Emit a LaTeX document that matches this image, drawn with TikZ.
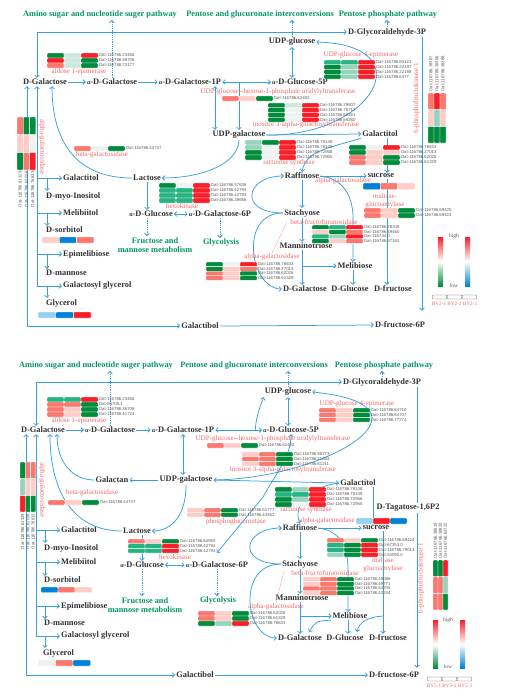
\documentclass[tikz,border=0pt]{standalone}
\usepackage{fontspec}
\setmainfont{Liberation Serif}
\setsansfont{Liberation Sans}
\usetikzlibrary{arrows.meta}
\definecolor{lnc}{RGB}{55,160,225}
\definecolor{ttlc}{RGB}{0,150,100}
\definecolor{enzc}{RGB}{245,105,105}
\definecolor{ntx}{RGB}{50,50,50}
\definecolor{gtx}{RGB}{90,90,90}
\definecolor{hR}{RGB}{250,30,40}
\definecolor{hS}{RGB}{250,120,110}
\definecolor{hP}{RGB}{255,205,200}
\definecolor{hW}{RGB}{238,243,241}
\definecolor{hT1}{RGB}{205,232,220}
\definecolor{hT}{RGB}{150,212,190}
\definecolor{hM}{RGB}{40,180,130}
\definecolor{hG}{RGB}{0,140,60}
\definecolor{hB}{RGB}{0,130,215}
\definecolor{hL}{RGB}{150,210,240}
\definecolor{hQ}{RGB}{240,240,240}
\newcommand\myalpha{{\fontsize{6}{6}\selectfont α}}
% rows heat map: name, x, y, cell w, cell h, list c1/c2/c3/label
\newcommand\hmrows[6]{%
  \foreach \ca/\cb/\cc/\lb [count=\i from 0] in {#6} {
    \path[hcell,fill=\ca] (#2,{#3+\i*#5}) rectangle ++(#4,#5);
    \path[hcell,fill=\cb] ({#2+#4},{#3+\i*#5}) rectangle ++(#4,#5);
    \path[hcell,fill=\cc] ({#2+2*#4},{#3+\i*#5}) rectangle ++(#4,#5);
    \node[gene,anchor=west] (#1\i) at ({#2+3*#4+0.4},{#3+\i*#5+#5/2}) {Oat-\lb};
  }}
% plain single row
\newcommand\hmplain[7]{%
  \path[hcell,fill=#5] (#1,#2) rectangle ++(#3,#4);
  \path[hcell,fill=#6] ({#1+#3},#2) rectangle ++(#3,#4);
  \path[hcell,fill=#7] ({#1+2*#3},#2) rectangle ++(#3,#4);}
% column heat map, labels below
\newcommand\hmcolsB[6]{%
  \foreach \ca/\cb/\cc/\lb [count=\i from 0] in {#6} {
    \path[hcell,fill=\ca] ({#2+\i*#4},#3) rectangle ++(#4,#5);
    \path[hcell,fill=\cb] ({#2+\i*#4},{#3+#5}) rectangle ++(#4,#5);
    \path[hcell,fill=\cc] ({#2+\i*#4},{#3+2*#5}) rectangle ++(#4,#5);
    \node[gene,rotate=90,anchor=east] (#1\i) at ({#2+\i*#4+#4/2},{#3+3*#5+1}) {Oat-\lb};
  }}
% column heat map, labels above
\newcommand\hmcolsA[6]{%
  \foreach \ca/\cb/\cc/\lb [count=\i from 0] in {#6} {
    \path[hcell,fill=\ca] ({#2+\i*#4},#3) rectangle ++(#4,#5);
    \path[hcell,fill=\cb] ({#2+\i*#4},{#3+#5}) rectangle ++(#4,#5);
    \path[hcell,fill=\cc] ({#2+\i*#4},{#3+2*#5}) rectangle ++(#4,#5);
    \node[gene,rotate=90,anchor=west] (#1\i) at ({#2+\i*#4+#4/2},{#3-1}) {Oat-\lb};
  }}
\tikzset{
  nd/.style={font=\fontsize{8.4}{9}\selectfont\bfseries, text=ntx, inner sep=1pt},
  ttl/.style={font=\fontsize{8.3}{9.6}\selectfont\bfseries, text=ttlc, inner sep=1pt},
  enz/.style={font=\fontsize{7.1}{7.8}\selectfont, text=enzc, inner sep=0.5pt},
  gene/.style={font=\sffamily\fontsize{4.3}{5}\selectfont, text=gtx, inner sep=0.3pt},
  hcell/.style={draw=white, line width=0.35pt, rounded corners=0.8pt},
  ln/.style={draw=lnc, line width=0.75pt},
  dsh/.style={dash pattern=on 1.3pt off 0.9pt},
  ptr/.style={draw=enzc!70, line width=0.3pt},
  lgt/.style={font=\fontsize{5.5}{6}\selectfont, text=gtx, inner sep=0.5pt},
  lgb/.style={draw=gtx, line width=0.3pt, rounded corners=0.6pt, minimum width=14pt, minimum height=4pt, inner sep=0},
  bar/.style={inner sep=0, minimum width=5pt, minimum height=49pt}
}
\begin{document}
\begin{tikzpicture}[x=1pt,y=-1pt,>={Straight Barb[length=2.3pt,width=4.6pt]}]
\fill[white] (0,0) rectangle (505,699);
\useasboundingbox (0,0) rectangle (505,699);

%================= TOP PANEL =================
\node[ttl] (t1) at (100,15) {Amino sugar and nucleotide suger pathway};
\node[ttl] (t2) at (260,15) {Pentose and glucuronate interconversions};
\node[ttl] (t3) at (388,15) {Pentose phosphate pathway};
\node[nd] (gly) at (387,32) {D-Glycoraldehyde-3P};
\node[nd] (udpglc) at (292,42) {UDP-glucose};
\node[nd] (dgal) at (45,82) {D-Galactose};
\node[nd] (adgal) at (112,82) {\myalpha-D-Galactose};
\node[nd] (adgal1p) at (190,82) {\myalpha-D-Galactose-1P};
\node[nd] (adglc5p) at (300,82) {\myalpha-D-Glucose-5P};
\node[nd] (udpgal) at (239,135) {UDP-galactose};
\node[nd] (galtol) at (380,134) {Galactitol};
\node[nd] (lact) at (147,178) {Lactose};
\node[nd] (raff) at (302,176) {Raffinose};
\node[nd] (sucr) at (381,176) {sucrose};
\node[nd,anchor=west] (galtolL) at (62,178) {Galactitol};
\node[nd,anchor=west] (myo) at (45,196) {D-myo-Inositol};
\node[nd,anchor=west] (melt) at (62,213) {Melibiitol};
\node[nd] (adglc) at (151,214) {\myalpha-D-Glucose};
\node[nd] (adgal6p) at (220,214) {\myalpha-D-Galactose-6P};
\node[nd] (stach) at (302,213) {Stachyose};
\node[nd,anchor=west] (sorb) at (45,230) {D-sorbitol};
\node[ttl,align=center] (fm) at (155,245) {Fructose and\\mannose metabolism};
\node[ttl] (glyc) at (221,243) {Glycolysis};
\node[nd] (mann) at (306,246) {Manninotriose};
\node[nd,anchor=west] (epim) at (62,254) {Epimelibiose};
\node[nd] (melib) at (355,266) {Melibiose};
\node[nd,anchor=west] (dman) at (45,273) {D-mannose};
\node[nd,anchor=west] (galgly) at (62,286) {Galactosyl glycerol};
\node[nd] (dgal2) at (305,289) {D-Galactose};
\node[nd] (dglc) at (350,289) {D-Glucose};
\node[nd] (dfru) at (393,289) {D-fructose};
\node[nd,anchor=west] (glycer) at (45,303) {Glycerol};
\node[nd] (galb) at (200,326) {Galactibol};
\node[nd] (f6p) at (400,325) {D-fructose-6P};

\node[enz] (e1) at (79,72) {aldose 1-epimerase};
\node[enz] (e2) at (361,55) {UDP-glucose 4-epimerase};
\node[enz] (e3) at (278,92) {UDP-glucose-{}-hexose-1-phosphate uridylyltransferase};
\node[enz] (e4) at (306,125) {inositol 3-alpha-galactosyltransferase};
\node[enz] (e5) at (102,155) {beta-galactosidase};
\node[enz] (e6) at (289,163) {raffinose synthase};
\node[enz] (e7) at (343,181) {alpha-galactosidase};
\node[enz,align=center] (e8) at (385,200.5) {maltase-\\glucoamylase};
\node[enz] (e9) at (182,206) {hexokinase};
\node[enz] (e10) at (324,222) {beta-fructofuranosidase};
\node[enz] (e11) at (272,257) {alpha-galactosidase};
\node[enz,rotate=-90] (e12) at (42,147) {alpha-galactosidase};
\node[enz,rotate=90] (e13) at (416.5,98) {6-phosphofructokinase 1};

\coordinate (sp1) at (27,0);
\coordinate (sp2) at (37,0);
\coordinate (sb) at (47,0);
\coordinate (v1) at (215,0);
\coordinate (v2) at (387,0);
\coordinate (v3) at (353,0);
\coordinate (v4) at (52,0);
\coordinate (v5) at (422,0);
\path (f6p.north -| v5) ++(0,-10) coordinate (f6pin);

% left spine
\draw[ln,<->] (galb.west) -| (dgal.south -| sp1);
\draw[ln,->] (galgly.west -| sp2) -- (dgal.south -| sp2);
\draw[ln,->] (galtolL.west -| sp2) -- (galtolL.west);
\draw[ln,->] (melt.west -| sp2) -- (melt.west);
\draw[ln,->] (epim.west -| sp2) -- (epim.west);
\draw[ln,->] (galgly.west -| sp2) -- (galgly.west);
\draw[ln,->] (galtolL.west -| sb) -- (myo.north -| sb);
\draw[ln,->] (melt.west -| sb) -- (sorb.north -| sb);
\draw[ln,->] (epim.west -| sb) -- (dman.north -| sb);
\draw[ln,->] (galgly.west -| sb) -- (glycer.north -| sb);
% top line
\draw[ln,<->] (dgal.north -| sp2) |- (gly.west);
\draw[ln,dsh,->] (adgal.north) -- (adgal.north |- t1.south);
\draw[ln,dsh,->] (udpglc.north) -- (udpglc.north |- t2.south);
\draw[ln,dsh,->] (gly.north) -- (gly.north |- t3.south);
\draw[ln,->] (dgal.east) -- (adgal.west);
\draw[ln,->] (adgal.east) -- (adgal1p.west);
\draw[ln,<->] (adgal1p.east) -- (adglc5p.west);
\draw[ln,->] (udpgal.north |- adgal1p.east) -- (udpgal.north);
\draw[ln,<->] (adgal1p.south -| v1) -- (udpgal.north -| v1);
\draw[ln,<->] (udpglc.south) -- (udpglc.south |- adglc5p.north);
\draw[ln,->] (udpgal.east) .. controls (372,137) and (425,45) .. (udpglc.east);
\draw[ln,->] (udpgal.east) -- (galtol.west);
\draw[ln,->] (galtol.south west) .. controls (330,148) and (306,150) .. (raff.north);
\draw[ln,->] (v2 |- galtol.south) -- (v2 |- sucr.north);
\draw[ln,->] (raff.east) -- (sucr.west);
\draw[ln,->] (raff.south) -- (raff.south |- stach.north);
\draw[ln,->] (stach.south) -- (stach.south |- mann.north);
\draw[ln,->] (stach.south |- mann.south) -- (stach.south |- dgal2.north);
\draw[ln,->] (stach.south |- melib.west) -- (melib.west);
\draw[ln,->] (raff.east) .. controls (342,178) and (353,195) .. (v3 |- stach.south) -- (v3 |- melib.north);
\draw[ln,->] (v3 |- melib.south) -- (v3 |- dglc.north);
\draw[ln,->] (v2 |- sucr.south) -- (v2 |- dfru.north);
\draw[ln,->] (stach.west) .. controls (238,213) and (245,176) .. (raff.west);
\draw[ln,->] (stach.west) .. controls (238,213) and (250,289) .. (dgal2.west);
\draw[ln,->] (lact.west) .. controls (75,178) and (52,140) .. (dgal.south -| v4);
\draw[ln,->] (udpgal.south) .. controls (238,165) and (200,178) .. (lact.east);
\draw[ln,->] (lact.south) -- (lact.south |- adglc.north);
\draw[ln,<->] (adglc.east) -- (adgal6p.west);
\draw[ln,dsh,->] (lact.south |- adglc.south) -- (lact.south |- fm.north);
\draw[ln,dsh,->] (adgal6p.south) -- (adgal6p.south |- glyc.north);
\draw[ln,->] (galb.east) -- (f6p.west);
\draw[ln,->] (v5 |- gly.south) -- (f6pin);
\draw[ptr] (e11.north) -- (287,222);

% heat maps top
\hmrows{ha}{47}{53}{17}{5}{hG/hT1/hR/116786.23456, hR/hT1/hG/116786.36706, hS/hT1/hG/116786.73177}
\hmrows{hb}{324}{60}{17}{4.75}{hM/hM/hR/116786.83121, hG/hT/hR/116786.22197, hG/hT/hR/116786.22198, hG/hT/hR/116786.6477}
\hmrows{hc}{222}{96}{17}{5}{hS/hP/hG/116786.62482}
\hmrows{hd}{268}{103}{17}{4.75}{hG/hT1/hR/116786.29807, hG/hW/hR/116786.76712, hG/hW/hR/116786.69261, hG/hW/hR/116786.69260}
\hmrows{he}{74}{146}{17}{5}{hS/hW/hG/116786.44747}
\hmrows{hf}{245}{140}{17}{5}{hT/hG/hR/116786.78148, hT/hW/hR/116786.78149, hG/hW/hR/116786.72956, hG/hW/hR/116786.72955}
\hmrows{hg}{349}{145}{17}{5}{hG/hW/hR/116786.76633, hG/hP/hP/116786.27013, hS/hP/hG/116786.62026, hS/hP/hG/116786.61329}
\hmrows{hi}{364}{208}{17}{5}{hS/hP/hG/116786.69425, hS/hP/hG/116786.69424}
\hmrows{hj}{159}{183}{17}{5}{hG/hW/hR/116786.57636, hM/hM/hR/116786.42794, hM/hM/hR/116786.42793, hM/hM/hR/116786.39665}
\hmrows{hk}{312}{225}{17}{4.6}{hG/hM/hR/116786.78349, hP/hG/hS/116786.49460, hM/hT/hR/116744.0, hG/hP/hS/116786.57162}
\hmrows{hl}{206}{262}{17}{4.6}{hG/hW/hR/116786.76633, hG/hP/hS/116786.27013, hS/hP/hG/116786.62026, hS/hP/hG/116786.61329}
\hmplain{42}{237}{17.3}{6}{hP}{hB}{hS}
\hmplain{38}{312}{17.7}{6}{hL}{hB}{hR}
\hmplain{363}{183}{17.3}{6.5}{hB}{hS}{hP}
\hmcolsB{hm}{17}{117}{6.3}{17.7}{hS/hP/hG/116786.61329, hG/hP/hS/116786.62026, hG/hW/hR/116786.76633}
\hmcolsA{hn}{428}{93}{6}{16.7}{hS/hP/hG/116786.38387, hR/hT/hG/116786.38386, hS/hP/hG/116786.38388}

% legend top
\node[bar,top color=hR,bottom color=hG,middle color=white] (lg1) at (440.5,261.5) {};
\node[bar,top color=hR,bottom color=hB,middle color=white] (lg2) at (467.5,261.5) {};
\node[lgt] (hi1) at (454,236) {high};
\node[lgt] (lo1) at (454,286) {low};
\node[lgb] (bx1) at (439.5,297) {};
\node[lgb] (bx2) at (454.5,297) {};
\node[lgb] (bx3) at (469.5,297) {};
\node[enz,font=\fontsize{5.2}{6}\selectfont] (by2) at (454.5,304) {BY2-1 BY2-2 BY2-3};

%================= BOTTOM PANEL =================
\node[ttl] (bt1) at (96,366) {Amino sugar and nucleotide suger pathway};
\node[ttl] (bt2) at (254,366) {Pentose and glucuronate interconversions};
\node[ttl] (bt3) at (384,366) {Pentose phosphate pathway};
\node[nd] (bgly) at (382,382) {D-Glycoraldehyde-3P};
\node[nd] (budpglc) at (288,392) {UDP-glucose};
\node[nd] (bdgal) at (43,430) {D-Galactose};
\node[nd] (badgal) at (110,430) {\myalpha-D-Galactose};
\node[nd] (badgal1p) at (183,430) {\myalpha-D-Galactose-1P};
\node[nd] (badglc5p) at (291,430) {\myalpha-D-Glucose-5P};
\node[nd] (bgalan) at (112,480) {Galactan};
\node[nd] (budpgal) at (186,480) {UDP-galactose};
\node[nd] (bgaltol) at (358,483) {Galactitol};
\node[nd] (btag) at (408,508) {D-Tagatose-1,6P2};
\node[nd] (braff) at (300,528) {Raffinose};
\node[nd] (bsucr) at (376,528) {sucrose};
\node[nd] (blact) at (137,531) {Lactose};
\node[nd,anchor=west] (bgaltolL) at (60,530) {Galactitol};
\node[nd,anchor=west] (bmyo) at (43,548) {D-myo-Inositol};
\node[nd,anchor=west] (bmelt) at (60,562) {Melibiitol};
\node[nd] (badglc) at (142,565) {\myalpha-D-Glucose};
\node[nd] (badgal6p) at (217,565) {\myalpha-D-Galactose-6P};
\node[nd] (bstach) at (300,564) {Stachyose};
\node[nd,anchor=west] (bsorb) at (43,580) {D-sorbitol};
\node[ttl,align=center] (bfm) at (145,605) {Fructose and\\mannose metabolism};
\node[ttl] (bglyc) at (218,601) {Glycolysis};
\node[nd] (bmann) at (302,598) {Manninotriose};
\node[nd,anchor=west] (bepim) at (60,606) {Epimelibiose};
\node[nd] (bmelib) at (350,616) {Melibiose};
\node[nd,anchor=west] (bdman) at (43,623) {D-mannose};
\node[nd,anchor=west] (bgalgly) at (60,636) {Galactosyl glycerol};
\node[nd] (bdgal2) at (300,638) {D-Galactose};
\node[nd] (bdglc) at (345,638) {D-Glucose};
\node[nd] (bdfru) at (388,638) {D-fructose};
\node[nd,anchor=west] (bglycer) at (42,653) {Glycerol};
\node[nd] (bgalb) at (195,675) {Galactibol};
\node[nd] (bf6p) at (394,675) {D-fructose-6P};

\node[enz] (be1) at (79,421) {aldose 1-epimerase};
\node[enz] (be2) at (357,404) {UDP-glucose 4-epimerase};
\node[enz] (be3) at (273,439) {UDP-glucose-{}-hexose-1-phosphate uridylyltransferase};
\node[enz] (be4) at (283,470) {inositol 3-alpha-galactosyltransferase};
\node[enz] (be5) at (92,493) {beta-galactosidase};
\node[enz] (be6) at (236,522) {phosphoglucomutase};
\node[enz] (be7) at (306,510) {raffinose synthase};
\node[enz] (be8) at (327,521) {alpha-galactosidase};
\node[enz,align=center] (be9) at (383,565) {maltase\\glucoamylase};
\node[enz] (be10) at (175,557) {hexokinase};
\node[enz] (be11) at (325,573) {beta-fructofuranosidase};
\node[enz] (be12) at (276,607) {alpha-galactosidase};
\node[enz,rotate=-90] (be13) at (42,490) {alpha-galactosidase};
\node[enz,rotate=90] (be14) at (421,578) {6-phosphofructokinase 1};

\coordinate (bsp1) at (26,0);
\coordinate (bsp2) at (36,0);
\coordinate (bsb) at (45,0);
\coordinate (bv2) at (373,0);
\coordinate (bv3) at (348,0);
\coordinate (bv4) at (50,0);
\coordinate (bv4b) at (57,0);
\coordinate (bv5) at (417,0);
\coordinate (bv6) at (383,0);
\coordinate (pgm) at (263,497);
\coordinate (m1) at (309,632);
\coordinate (m2) at (357,632);
\path (badgal6p.north) ++(0,-8) coordinate (pgmend);
\path (bf6p.north -| bv5) ++(0,-3) coordinate (bf6pin);
\path (badgal1p.east) ++(40,0) coordinate (hx);

\draw[ln,<->] (bgalb.west) -| (bdgal.south -| bsp1);
\draw[ln,->] (bgalgly.west -| bsp2) -- (bdgal.south -| bsp2);
\draw[ln,->] (bgaltolL.west -| bsp2) -- (bgaltolL.west);
\draw[ln,->] (bmelt.west -| bsp2) -- (bmelt.west);
\draw[ln,->] (bepim.west -| bsp2) -- (bepim.west);
\draw[ln,->] (bgalgly.west -| bsp2) -- (bgalgly.west);
\draw[ln,->] (bgaltolL.west -| bsb) -- (bmyo.north -| bsb);
\draw[ln,->] (bmelt.west -| bsb) -- (bsorb.north -| bsb);
\draw[ln,->] (bepim.west -| bsb) -- (bdman.north -| bsb);
\draw[ln,->] (bgalgly.west -| bsb) -- (bglycer.north -| bsb);
\draw[ln,<->] (bdgal.north -| bsp2) |- (bgly.west);
\draw[ln,dsh,->] (badgal.north) -- (badgal.north |- bt1.south);
\draw[ln,dsh,->] (budpglc.north) -- (budpglc.north |- bt2.south);
\draw[ln,dsh,->] (bgly.north) -- (bgly.north |- bt3.south);
\draw[ln,->] (bdgal.east) -- (badgal.west);
\draw[ln,->] (badgal.east) -- (badgal1p.west);
\draw[ln,<->] (badgal1p.east) -- (badglc5p.west);
\draw[ln,->] (hx) .. controls (256,415) and (262,402) .. (budpglc.south west);
\draw[ln,<->] (budpglc.south) -- (budpglc.south |- badglc5p.north);
\draw[ln,<->] (badgal1p.south) -- (badgal1p.south |- budpgal.north);
\draw[ln,->] (budpgal.west) -- (bgalan.east);
\draw[ln,->] (blact.west) .. controls (72,531) and (50,490) .. (bdgal.south -| bv4);
\draw[ln,->] (bgalan.west) .. controls (72,480) and (57,462) .. (bdgal.south -| bv4b);
\draw[ln,->] (budpgal.south) .. controls (186,515) and (172,531) .. (blact.east);
\draw[ln,->] (badglc.north |- blact.south) -- (badglc.north);
\draw[ln,<->] (badglc.east) -- (badgal6p.west);
\draw[ln,dsh,->] (badglc.south) -- (badglc.south |- bfm.north);
\draw[ln,dsh,->] (badgal6p.south) -- (badgal6p.south |- bglyc.north);
\draw[ln,<->] (budpgal.east) .. controls (330,478) and (445,405) .. (budpglc.east);
\draw[ln,->] (budpgal.east) -- (bgaltol.west);
\draw[ln,<->] (pgmend) -- (pgm) .. controls (278,470) and (291,456) .. (badglc5p.south);
\draw[ln,->] (bgaltol.west) .. controls (312,486) and (292,505) .. (braff.north);
\draw[ln,->] (braff.east) -- (bsucr.west);
\draw[ln,->] (bv2 |- bgaltol.south) -- (bv2 |- bsucr.north);
\draw[ln,->] (braff.south) -- (braff.south |- bstach.north);
\draw[ln,->] (bstach.south) -- (bstach.south |- bmann.north);
\draw[ln,->] (bstach.south |- bmann.south) -- (bstach.south |- bdgal2.north);
\draw[ln,->] (bstach.south |- bmelib.west) -- (bmelib.west);
\draw[ln,->] (braff.east) .. controls (338,530) and (348,545) .. (bv3 |- bstach.south) -- (bv3 |- bmelib.north);
\draw[ln,->] (bv3 |- bmelib.south) -- (bv3 |- bdglc.north);
\draw[ln,->] (bv6 |- bsucr.south) -- (bv6 |- bdfru.north);
\draw[ln,->] (bmelib.south west) .. controls (316,621) .. (m1);
\draw[ln,->] (bv6 |- bmelib.east) .. controls (368,617) and (359,622) .. (m2);
\draw[ln,->] (bstach.west) .. controls (236,564) and (243,528) .. (braff.west);
\draw[ln,->] (bstach.west) .. controls (236,564) and (245,638) .. (bdgal2.west);
\draw[ln,->] (bgalb.east) -- (bf6p.west);
\draw[ln] (bv5 |- bgly.south) -- (bv5 |- btag.north);
\draw[ln,->] (bv5 |- btag.south) -- (bf6pin);
\draw[ptr] (be12.north) -- (284,571);

% heat maps bottom
\hmrows{ba}{47}{397}{17}{5}{hM/hM/hR/116786.23456, hS/hS/hG/94705.1, hS/hP/hG/116786.36706, hS/hP/hG/116786.41724}
\hmrows{bb}{319}{408}{17}{4.7}{hS/hP/hG/116786.64710, hS/hP/hG/116786.64707, hS/hP/hG/116786.77274}
\hmrows{bc}{207}{443}{17}{5}{hS/hP/hG/116786.62482}
\hmrows{bd}{242}{452}{17}{4.7}{hP/hS/hG/116786.95373, hS/hS/hG/116786.41693, hP/hS/hG/116786.61211}
\hmrows{be}{48}{500}{17}{5}{hS/hP/hG/116786.44747}
\hmrows{bf}{187}{508}{17}{4.5}{hP/hS/hG/116786.51777, hP/hS/hG/116786.43462}
\hmrows{bg}{275}{487}{17}{5}{hG/hT/hR/116786.78148, hM/hM/hR/116786.78149, hG/hT/hR/116786.72956, hG/hW/hR/116786.72955}
\hmplain{356}{518}{17}{6}{hL}{hR}{hB}
\hmrows{bh}{327}{538}{17}{4.75}{hS/hP/hG/116786.69424, hM/hG/hR/67353.0, hM/hG/hR/116786.79013, hT/hG/hR/53090.0}
\hmrows{bi}{128}{539}{17}{4.7}{hS/hP/hG/116786.64955, hM/hM/hR/116786.42794, hM/hM/hR/116786.42793}
\hmrows{bj}{303}{577}{17}{4.6}{hP/hS/hG/116786.49086, hP/hS/hG/116786.49771, hS/hS/hG/116786.53705, hP/hS/hG/116786.42244}
\hmrows{bk}{198}{611}{17}{5}{hS/hP/hG/116786.62026, hS/hP/hG/116786.61329, hG/hT/hR/116786.76633}
\hmplain{41}{587}{17}{5.5}{hB}{hS}{hP}
\hmplain{38}{660}{17.5}{6}{hQ}{hS}{hB}
\hmcolsB{bm}{20}{462}{5.3}{16.7}{hG/hT/hR/116786.61329, hS/hP/hG/116786.62026, hS/hP/hG/116786.76633}
\hmcolsA{bn}{433}{560}{5}{16.7}{hG/hS/hS/116786.38819, hG/hS/hS/116786.38820, hR/hT/hG/116786.63722}

% legend bottom
\node[bar,minimum height=48pt,top color=hR,bottom color=hG,middle color=white] (lg3) at (435.5,644) {};
\node[bar,minimum height=48pt,top color=hR,bottom color=hB,middle color=white] (lg4) at (462.5,644) {};
\node[lgt] (hi2) at (448,620) {high};
\node[lgt] (lo2) at (448,667) {low};
\node[lgb] (bx4) at (434.5,679) {};
\node[lgb] (bx5) at (449.5,679) {};
\node[lgb] (bx6) at (464.5,679) {};
\node[enz,font=\fontsize{5.2}{6}\selectfont] (by5) at (449.5,686) {BY5-1 BY5-2 BY5-3};
\end{tikzpicture}
\end{document}
